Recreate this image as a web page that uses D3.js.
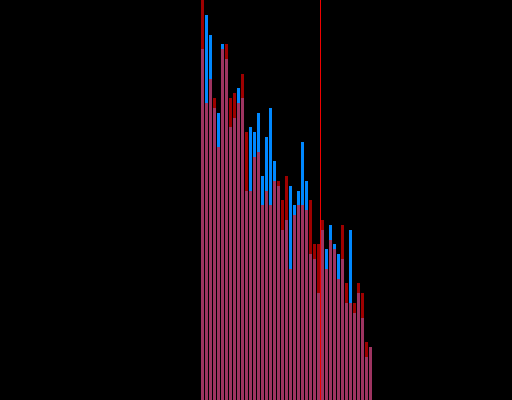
<!DOCTYPE html>
<html>
<head>
<meta charset="utf-8">
<script src="https://cdn.jsdelivr.net/npm/d3@7"></script>
<style>
  html, body { margin: 0; padding: 0; background: #000; }
  svg { display: block; }
</style>
</head>
<body>
<svg id="chart" width="512" height="400"></svg>
<script>
// Bin indices (categories)
const bins = d3.range(43);
// Series A (blue, opaque)
const blueValues = [351, 385, 365, 292, 287, 356, 341, 273, 282, 312, 302, 209, 273, 268, 287, 224, 263, 292, 239, 214, 170, 180, 214, 195, 209, 258, 219, 146, 141, 107, 170, 151, 175, 156, 146, 141, 97, 170, 87, 107, 82, 43, 53];
// Series B (red, translucent, drawn on top)
const redValues = [400, 297, 321, 302, 253, 351, 356, 302, 307, 297, 326, 268, 209, 243, 248, 195, 209, 195, 219, 219, 200, 224, 131, 185, 195, 195, 190, 200, 156, 156, 180, 131, 160, 151, 121, 175, 117, 97, 97, 117, 107, 58, 53];
// Vertical marker position (bin boundary)
const markerBin = 30;

const W = 512, H = 400;
const svg = d3.select("#chart");
svg.append("rect").attr("width", W).attr("height", H).attr("fill", "#000");

const x = d3.scaleBand()
  .domain(bins)
  .range([201, 201 + bins.length * 4])
  .paddingInner(0.25)
  .paddingOuter(0.125)
  .align(0);

const y = d3.scaleLinear().domain([0, 400]).range([H, 0]);

const g = svg.append("g").attr("shape-rendering", "crispEdges");

g.selectAll("rect.blue")
  .data(bins)
  .join("rect")
  .attr("class", "blue")
  .attr("x", d => x(d))
  .attr("width", x.bandwidth())
  .attr("y", d => y(blueValues[d]))
  .attr("height", d => y(0) - y(blueValues[d]))
  .attr("fill", "#0088ff");

g.selectAll("rect.red")
  .data(bins)
  .join("rect")
  .attr("class", "red")
  .attr("x", d => x(d))
  .attr("width", x.bandwidth())
  .attr("y", d => y(redValues[d]))
  .attr("height", d => y(0) - y(redValues[d]))
  .attr("fill", "#ff0000")
  .attr("fill-opacity", 0.62);

const mx = x(markerBin) - x.step() * x.paddingInner();
g.append("rect")
  .attr("x", mx)
  .attr("width", 1)
  .attr("y", 0)
  .attr("height", H)
  .attr("fill", "#ee0000");
</script>
</body>
</html>
